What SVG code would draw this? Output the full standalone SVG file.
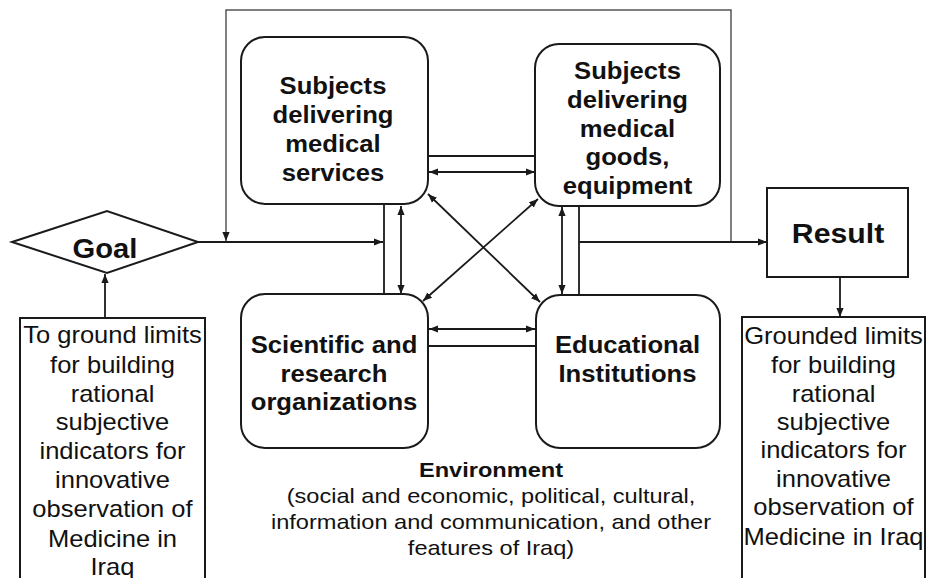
<svg xmlns="http://www.w3.org/2000/svg" width="927" height="578" viewBox="0 0 927 578">
<defs>
<marker id="ah" viewBox="0 0 10 10" refX="10" refY="5" markerWidth="9" markerHeight="9" markerUnits="userSpaceOnUse" orient="auto-start-reverse"><path d="M0,1 L10,5 L0,9 z" fill="#1a1a1a"/></marker>
</defs>
<style>
.box{fill:#fff;stroke:#1a1a1a;stroke-width:2}
.ln{fill:none;stroke:#1a1a1a;stroke-width:1.8}
.ar{fill:none;stroke:#1a1a1a;stroke-width:1.8;marker-end:url(#ah)}
.ar2{fill:none;stroke:#1a1a1a;stroke-width:1.8;marker-start:url(#ah);marker-end:url(#ah)}
.fr{fill:none;stroke:#555;stroke-width:1.5}
.b{font-family:"Liberation Sans",Arial,sans-serif;font-weight:bold;font-size:23.3px;fill:#111;text-anchor:middle}
.r{font-family:"Liberation Sans",Arial,sans-serif;font-size:23px;fill:#111;text-anchor:middle}
</style>
<rect width="927" height="578" fill="#fff"/>
<g id="connectors">
<path class="fr" d="M731,242 L731,10 L226,10 L226,241" marker-end="url(#ah)"/>
<path class="ar" d="M198,242 L383,242"/>
<path class="ln" d="M384,204 L384,294"/>
<path class="ar2" d="M401,206 L401,294"/>
<path class="ln" d="M428,156 L536,156"/>
<path class="ar2" d="M429,172 L535,172"/>
<path class="ar2" d="M429,329 L535,329"/>
<path class="ln" d="M428,346 L536,346"/>
<path class="ar2" d="M428,194 L540,302"/>
<path class="ar2" d="M538,199 L423,301"/>
<path class="ar2" d="M562,207 L562,294"/>
<path class="ln" d="M579,206 L579,295"/>
<path class="ar" d="M579,242 L767,242"/>
<path class="ar" d="M105,317 L105,274"/>
<path class="ar" d="M840,277 L840,317"/>
</g>
<g id="goal">
<polygon class="box" points="12,242 107,211 198,242 107,273"/>
<g transform="translate(105 0) scale(1.08 1)"><text class="b" x="0" y="258" style="font-size:27px">Goal</text></g>
</g>
<g id="goal-text">
<rect class="box" x="20" y="318" width="185" height="290"/>
<g transform="translate(112.5 0) scale(1.11 1)" class="r">
<text x="0" y="343">To ground limits</text>
<text x="0" y="373">for building</text>
<text x="0" y="402">rational</text>
<text x="0" y="430">subjective</text>
<text x="0" y="459">indicators for</text>
<text x="0" y="488">innovative</text>
<text x="0" y="517">observation of</text>
<text x="0" y="547">Medicine in</text>
<text x="0" y="575">Iraq</text>
</g>
</g>
<g id="services">
<rect class="box" x="241" y="37" width="187" height="167" rx="24"/>
<g transform="translate(333 0) scale(1.1 1)" class="b">
<text x="0" y="94">Subjects</text>
<text x="0" y="123">delivering</text>
<text x="0" y="152">medical</text>
<text x="0" y="181">services</text>
</g>
</g>
<g id="goods">
<rect class="box" x="535" y="44" width="185" height="162" rx="24"/>
<g transform="translate(627.5 0) scale(1.1 1)" class="b">
<text x="0" y="79">Subjects</text>
<text x="0" y="108">delivering</text>
<text x="0" y="137">medical</text>
<text x="0" y="165">goods,</text>
<text x="0" y="194">equipment</text>
</g>
</g>
<g id="research">
<rect class="box" x="241" y="294" width="187" height="154" rx="24"/>
<g transform="translate(334 0) scale(1.1 1)" class="b">
<text x="0" y="353">Scientific and</text>
<text x="0" y="382">research</text>
<text x="0" y="410">organizations</text>
</g>
</g>
<g id="education">
<rect class="box" x="536" y="295" width="184" height="153" rx="24"/>
<g transform="translate(627.5 0) scale(1.1 1)" class="b">
<text x="0" y="353">Educational</text>
<text x="0" y="382">Institutions</text>
</g>
</g>
<g id="environment">
<g transform="translate(491 0) scale(1.15 1)">
<text class="b" x="0" y="477" style="font-size:20.5px">Environment</text>
<text class="r" x="0" y="503" style="font-size:20.5px">(social and economic, political, cultural,</text>
<text class="r" x="0" y="529" style="font-size:20.5px">information and communication, and other</text>
<text class="r" x="0" y="555" style="font-size:20.5px">features of Iraq)</text>
</g>
</g>
<g id="result">
<rect class="box" x="767" y="188" width="141" height="89"/>
<g transform="translate(838 0) scale(1.12 1)"><text class="b" x="0" y="243" style="font-size:27px">Result</text></g>
</g>
<g id="result-text">
<rect class="box" x="742" y="317" width="183" height="290"/>
<g transform="translate(833.5 0) scale(1.11 1)" class="r">
<text x="0" y="344">Grounded limits</text>
<text x="0" y="373">for building</text>
<text x="0" y="402">rational</text>
<text x="0" y="430">subjective</text>
<text x="0" y="458">indicators for</text>
<text x="0" y="487">innovative</text>
<text x="0" y="515">observation of</text>
<text x="0" y="545">Medicine in Iraq</text>
</g>
</g>
</svg>
